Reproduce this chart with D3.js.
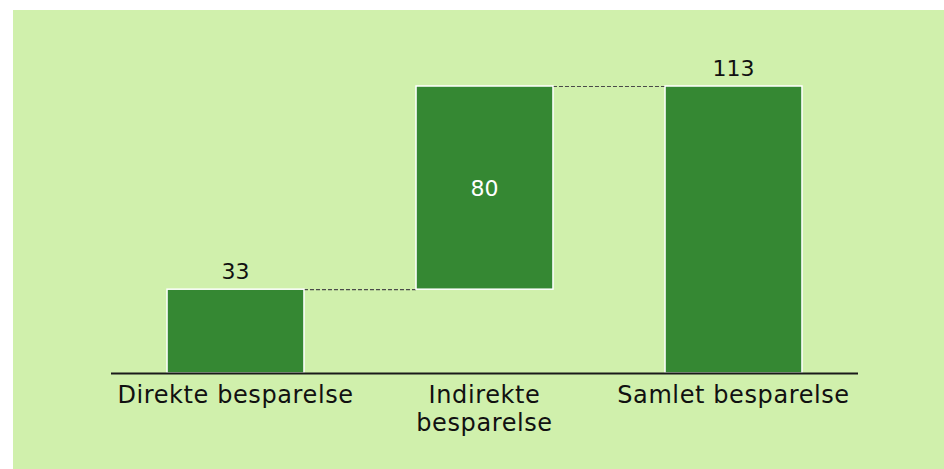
<!DOCTYPE html>
<html>
<head>
<meta charset="utf-8">
<script src="https://cdn.jsdelivr.net/npm/d3@7"></script>
<style>
  body { margin: 0; background: #fff; }
  text { font-family: "DejaVu Sans", sans-serif; }
</style>
</head>
<body>
<svg id="chart" width="944" height="469"></svg>
<script>
// chart values
const categories = ["Direkte besparelse", "Indirekte besparelse", "Samlet besparelse"];
const deltas = [33, 80, 113];
const isTotal = [false, false, true];

const svg = d3.select("#chart");

// background panel
svg.append("rect")
    .attr("x", 13).attr("y", 10)
    .attr("width", 931).attr("height", 459)
    .attr("fill", "#d0f0ac");

// waterfall steps
let run = 0;
const steps = categories.map(function (c, i) {
    let start = isTotal[i] ? 0 : run;
    let end = isTotal[i] ? deltas[i] : run + deltas[i];
    run = end;
    return {cat: c, value: deltas[i], start: start, end: end};
});

const x = d3.scaleBand()
    .domain(categories)
    .range([111, 858])
    .paddingInner(0.45)
    .paddingOuter(0.225);

const y = d3.scaleLinear()
    .domain([0, d3.max(steps, d => d.end)])
    .range([373, 86]);

// connectors
svg.selectAll(".conn")
    .data(steps.slice(0, -1))
    .enter().append("line")
    .attr("class", "conn")
    .attr("x1", d => x(d.cat) + x.bandwidth())
    .attr("x2", (d, i) => x(steps[i + 1].cat))
    .attr("y1", d => y(d.end) + 0.5)
    .attr("y2", d => y(d.end) + 0.5)
    .attr("stroke", "#4a4a4a")
    .attr("stroke-width", 1.2)
    .attr("stroke-dasharray", "4,2");

// bars
svg.selectAll(".bar")
    .data(steps)
    .enter().append("rect")
    .attr("class", "bar")
    .attr("x", d => x(d.cat))
    .attr("y", d => y(d.end))
    .attr("width", x.bandwidth())
    .attr("height", d => y(d.start) - y(d.end))
    .attr("fill", "#358833")
    .attr("stroke", "#fff")
    .attr("stroke-width", 1.5);

// axis line
svg.append("line")
    .attr("x1", 111).attr("x2", 858)
    .attr("y1", y(0) + 0.5).attr("y2", y(0) + 0.5)
    .attr("stroke", "#1a1a1a")
    .attr("stroke-width", 2);

// value labels
svg.selectAll(".val")
    .data(steps)
    .enter().append("text")
    .attr("class", "val")
    .attr("x", d => x(d.cat) + x.bandwidth() / 2)
    .attr("y", function (d) {
        if (d.start > 0) return (y(d.start) + y(d.end)) / 2 + 8;
        return y(d.end) - 10;
    })
    .attr("text-anchor", "middle")
    .attr("font-size", 22)
    .attr("fill", d => d.start > 0 ? "#fff" : "#111")
    .text(d => d.value);

// category labels, wrapped to the band step
const labels = svg.selectAll(".cat")
    .data(categories)
    .enter().append("text")
    .attr("class", "cat")
    .attr("x", d => x(d) + x.bandwidth() / 2)
    .attr("y", 403)
    .attr("text-anchor", "middle")
    .attr("font-size", 24)
    .attr("letter-spacing", 0.6)
    .attr("fill", "#111");

labels.each(function (d) {
    let t = d3.select(this);
    t.text(d);
    if (this.getComputedTextLength() > x.step()) {
        t.text(null);
        d.split(" ").forEach(function (w, i) {
            t.append("tspan")
                .attr("x", x(d) + x.bandwidth() / 2)
                .attr("dy", i === 0 ? 0 : 28)
                .text(w);
        });
    }
});
</script>
</body>
</html>
